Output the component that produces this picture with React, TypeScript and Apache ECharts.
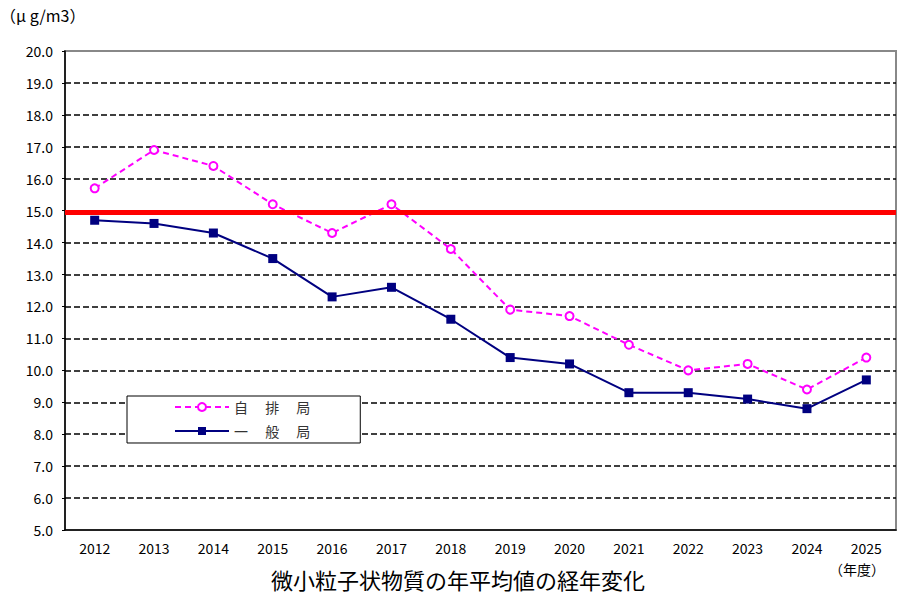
import React, { useEffect, useRef } from 'react';
import * as echarts from 'echarts';

// fiscal years
const years = ['2012', '2013', '2014', '2015', '2016', '2017', '2018', '2019', '2020', '2021', '2022', '2023', '2024', '2025'];
// roadside stations (自排局)
const roadside = [15.7, 16.9, 16.4, 15.2, 14.3, 15.2, 13.8, 11.9, 11.7, 10.8, 10.0, 10.2, 9.4, 10.4];
// general stations (一般局)
const general = [14.7, 14.6, 14.3, 13.5, 12.3, 12.6, 11.6, 10.4, 10.2, 9.3, 9.3, 9.1, 8.8, 9.7];
// environmental standard line
const standard = 14.95;

const font = '"Noto Sans CJK JP", sans-serif';
const roadsideName = '自 　排 　局';
const generalName = '一 　般 　局';

const App: React.FC = () => {
    const chartRef = useRef<HTMLDivElement | null>(null);

    useEffect(() => {
        if (!chartRef.current) return;
        const myChart = echarts.init(chartRef.current, null, { renderer: 'svg' });

        myChart.setOption({
            animation: false,
            textStyle: { fontFamily: font },
            grid: {
                left: 65,
                right: 24,
                top: 51,
                bottom: 67,
                show: true,
                borderColor: '#888888',
                borderWidth: 2,
            },
            graphic: [
                {
                    type: 'text',
                    left: 0,
                    top: 7,
                    style: { text: '（μ g/m3）', fontSize: 16, fill: '#000', fontFamily: font },
                },
                {
                    type: 'text',
                    left: 829,
                    top: 562,
                    style: { text: '（年度）', fontSize: 14, fill: '#000', fontFamily: font },
                },
                {
                    type: 'text',
                    x: 458,
                    y: 579,
                    style: {
                        text: '微小粒子状物質の年平均値の経年変化',
                        fontSize: 22,
                        fill: '#000',
                        fontFamily: font,
                        align: 'center',
                        verticalAlign: 'middle',
                    },
                },
            ],
            legend: {
                orient: 'vertical',
                left: 127,
                top: 396,
                padding: [4, 50, 5, 47],
                itemGap: 10,
                itemWidth: 54,
                itemHeight: 10,
                backgroundColor: '#ffffff',
                borderColor: '#000000',
                borderWidth: 1,
                textStyle: { fontSize: 14, color: '#333', fontFamily: font },
                data: [roadsideName, generalName],
            },
            xAxis: {
                type: 'category',
                data: years,
                boundaryGap: true,
                axisLine: { lineStyle: { color: '#000', width: 1.5 } },
                axisTick: { inside: true, length: 5, lineStyle: { color: '#000' } },
                axisLabel: { color: '#000', fontSize: 14, margin: 11 },
            },
            yAxis: {
                type: 'value',
                min: 5,
                max: 20,
                interval: 1,
                axisLine: { show: true, lineStyle: { color: '#000', width: 1.5 } },
                axisTick: { show: true, length: 3, lineStyle: { color: '#000' } },
                axisLabel: {
                    color: '#000',
                    fontSize: 14,
                    margin: 12,
                    formatter: (v: number) => v.toFixed(1),
                },
                splitLine: {
                    show: true,
                    showMinLine: false,
                    showMaxLine: false,
                    lineStyle: { color: '#000', type: [6, 3], width: 1.5 },
                },
            },
            series: [
                {
                    name: 'standard',
                    type: 'line',
                    data: [],
                    z: 1,
                    markLine: {
                        silent: true,
                        symbol: 'none',
                        label: { show: false },
                        lineStyle: { color: '#ff0000', width: 5, type: 'solid' },
                        data: [{ yAxis: standard }],
                    },
                },
                {
                    name: roadsideName,
                    type: 'line',
                    data: roadside,
                    z: 3,
                    symbol: 'emptyCircle',
                    symbolSize: 8,
                    color: '#ff00ff',
                    lineStyle: { color: '#ff00ff', width: 2, type: [6, 4] },
                    itemStyle: { color: '#ff00ff', borderColor: '#ff00ff', borderWidth: 1.2 },
                },
                {
                    name: generalName,
                    type: 'line',
                    data: general,
                    z: 4,
                    symbol: 'rect',
                    symbolSize: 9,
                    color: '#000080',
                    lineStyle: { color: '#000080', width: 2 },
                    itemStyle: { color: '#000080' },
                },
            ],
        });

        const onResize = () => myChart.resize();
        window.addEventListener('resize', onResize);
        return () => {
            window.removeEventListener('resize', onResize);
            myChart.dispose();
        };
    }, []);

    return (
        <div
            ref={chartRef}
            style={{ position: 'absolute', left: 0, top: 0, width: '920px', height: '597px' }}
        />
    );
};

export default App;
